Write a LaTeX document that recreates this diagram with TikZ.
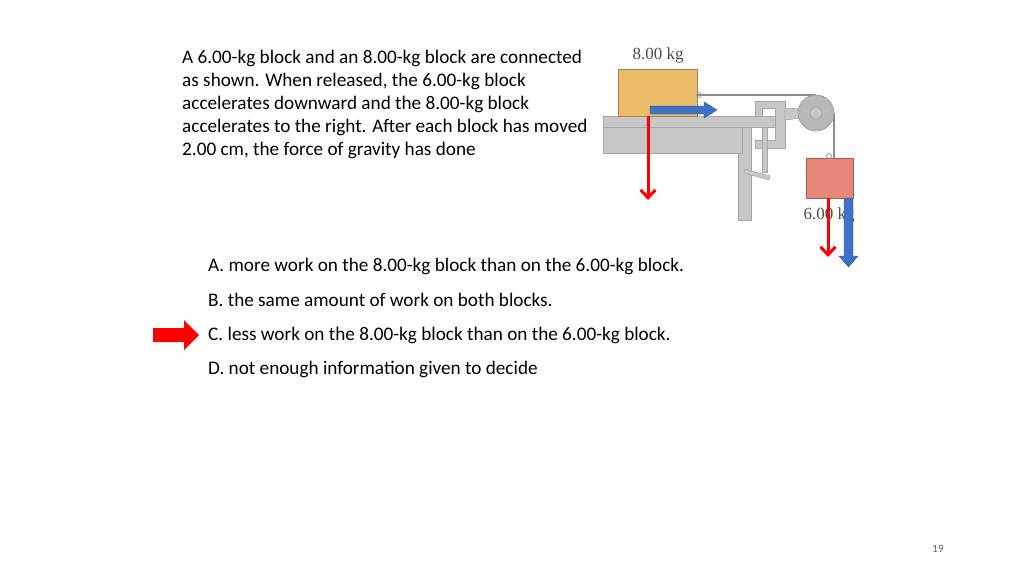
\documentclass[tikz,border=0pt]{standalone}
\usepackage{fontspec}
\usetikzlibrary{arrows.meta}
\setmainfont{Carlito}
\newfontfamily\serifx{Liberation Serif}
\definecolor{gold}{HTML}{EBBD6A}
\definecolor{salmon}{HTML}{E8867A}
\definecolor{bl}{HTML}{3F72C4}
\begin{document}
\begin{tikzpicture}[x=1pt,y=-1pt,
  txt/.style={anchor=west,inner sep=0pt,font=\fontsize{19.2}{23}\selectfont},
  metal/.style={fill=black!22,draw=black!35,line width=0.6pt},
  redarr/.style={draw=red,line width=3pt,-{Straight Barb[length=8pt,width=15pt,line width=3pt]}},
  bluearr/.style={fill=bl,draw=bl!70!black,line width=0.4pt}]
\useasboundingbox[fill=white] (0,0) rectangle (1024,576);
\node[txt,anchor=north west,align=left] (q) at (182,50) {A 6.00-kg block and an 8.00-kg block are connected\\as shown. When released, the 6.00-kg block\\accelerates downward and the 8.00-kg block\\accelerates to the right. After each block has moved\\2.00 cm, the force of gravity has done};
\node[txt] (a) at (208,266) {A. more work on the 8.00-kg block than on the 6.00-kg block.};
\node[txt] (b) at (208,300) {B. the same amount of work on both blocks.};
\node[txt] (c) at (208,335) {C. less work on the 8.00-kg block than on the 6.00-kg block.};
\node[txt] (d) at (208,369) {D. not enough information given to decide};
\fill[red] (153,328) -- (184,328) -- (184,320) -- (199,335) -- (184,350) -- (184,342) -- (153,342) -- cycle;
\node[font=\fontsize{11}{12}\selectfont,text=black!60] (pg) at (938,549) {19};
% table
\draw[metal] (738,127) rectangle (751,220);
\draw[metal] (603,127) rectangle (742,153);
\draw[metal] (603,116) rectangle (775,127);
% clamp
\draw[metal] (755,101) -- (785,101) -- (785,148) -- (755,148) -- (755,140) -- (775,140) -- (775,108) -- (762,108) -- (762,116) -- (755,116) -- cycle;
\draw[metal] (762,127) rectangle (767,172);
\draw[metal,rotate around={-15:(755,174)}] (744,172) rectangle (770,176);
\draw[metal] (785,108) -- (816,110) -- (816,116) -- (785,120) -- cycle;
% strings
\draw[black!45,line width=1.2pt] (697,95) -- (816,95);
\draw[black!45,line width=1.2pt] (834,113) -- (834,158);
% pulley
\draw[fill=black!28,draw=black!40,line width=0.6pt] (816,113) circle (18);
\draw[metal] (816,113) circle (6);
% blocks
\draw[fill=gold,draw=gold!70!black,line width=0.4pt] (618,69) rectangle (697,116);
\draw[black!40,line width=0.8pt] (699,95) circle (2.5);
\draw[fill=salmon,draw=salmon!70!black,line width=0.4pt] (806,158) rectangle (853,198);
\draw[black!40,line width=0.8pt] (829,156) circle (2.5);
\node[font=\serifx\fontsize{17}{18}\selectfont,text=black!70] (l8) at (658,55) {8.00 kg};
\node[font=\serifx\fontsize{17}{18}\selectfont,text=black!70] (l6) at (829,215) {6.00 kg};
% arrows
\draw[bluearr] (650,106) -- (704,106) -- (704,102) -- (717,110) -- (704,118) -- (704,114) -- (650,114) -- cycle;
\draw[redarr] (648,116) -- (648,200);
\draw[redarr] (828,198) -- (828,257);
\draw[bluearr] (844,198) -- (853,198) -- (853,256) -- (858,256) -- (848.5,267) -- (839,256) -- (844,256) -- cycle;
\end{tikzpicture}
\end{document}
